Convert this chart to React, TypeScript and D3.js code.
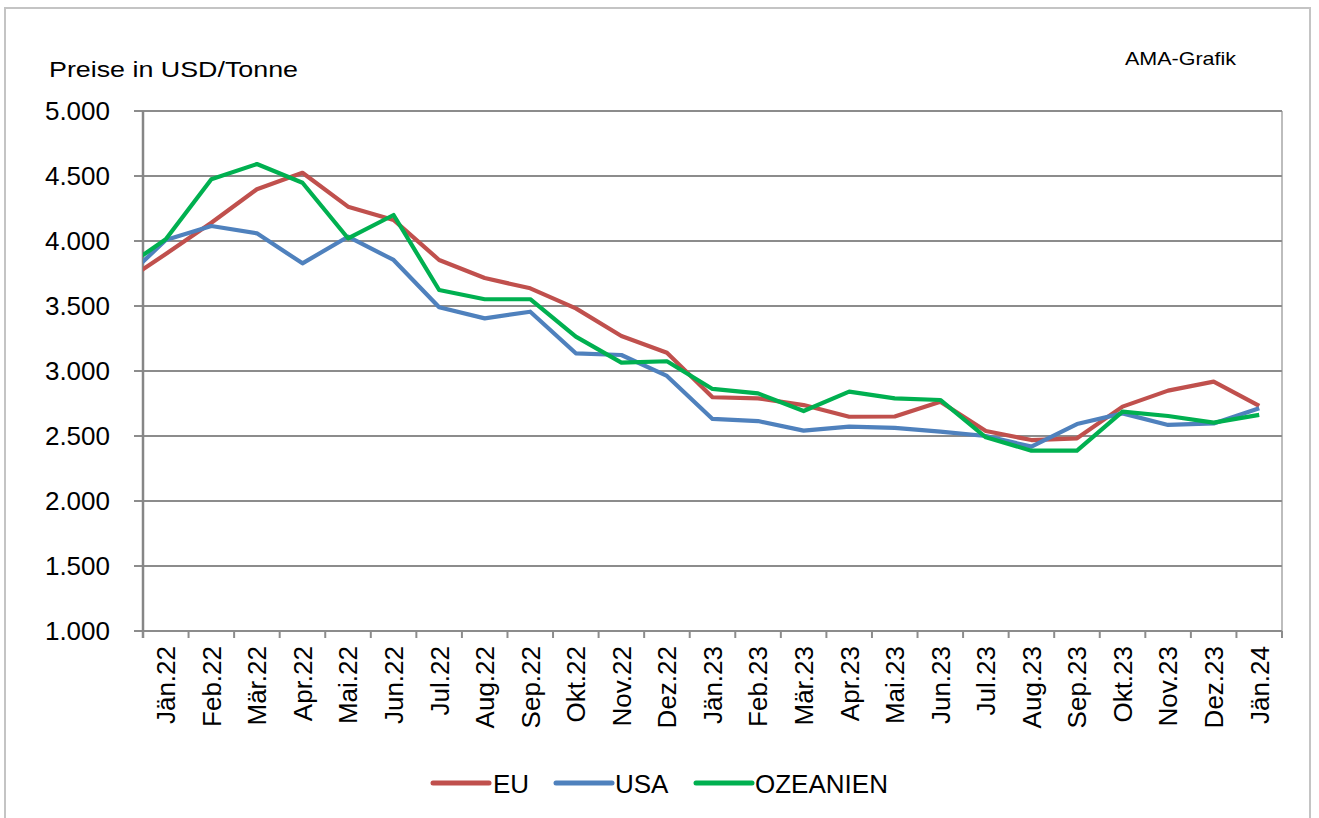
import React from 'react'
import * as d3 from 'd3'

const categories = [
  'Jän.22', 'Feb.22', 'Mär.22', 'Apr.22', 'Mai.22', 'Jun.22', 'Jul.22', 'Aug.22', 'Sep.22',
  'Okt.22', 'Nov.22', 'Dez.22', 'Jän.23', 'Feb.23', 'Mär.23', 'Apr.23', 'Mai.23', 'Jun.23',
  'Jul.23', 'Aug.23', 'Sep.23', 'Okt.23', 'Nov.23', 'Dez.23', 'Jän.24'
]

// Wert vom Vormonat (Dez.21), liegt links ausserhalb der Achse und wird abgeschnitten
const priorEU = 3664
const priorUSA = 3674
const priorOZ = 3771

const euValues = [3900, 4140, 4398, 4525, 4264, 4162, 3854, 3715, 3636, 3482, 3269, 3141, 2798, 2790, 2738, 2648, 2650, 2764, 2538, 2469, 2482, 2726, 2849, 2918, 2731]
const usaValues = [4008, 4115, 4059, 3828, 4033, 3854, 3490, 3405, 3456, 3136, 3123, 2962, 2631, 2615, 2541, 2572, 2563, 2533, 2500, 2418, 2592, 2674, 2585, 2597, 2713]
const ozValues = [4013, 4475, 4592, 4448, 4021, 4200, 3623, 3552, 3552, 3264, 3064, 3075, 2862, 2828, 2692, 2841, 2790, 2777, 2490, 2387, 2387, 2687, 2654, 2603, 2662]

const yTicks = [1000, 1500, 2000, 2500, 3000, 3500, 4000, 4500, 5000]

const series = [
  { name: 'EU', color: '#C0504D', prior: priorEU, values: euValues },
  { name: 'USA', color: '#4F81BD', prior: priorUSA, values: usaValues },
  { name: 'OZEANIEN', color: '#00B050', prior: priorOZ, values: ozValues }
]

const W = 1319
const H = 818
const left = 143
const right = 1282
const top = 111
const bottom = 631

const font = '"Liberation Sans", Arial, sans-serif'

const App: React.FC = () => {
  const x = d3.scaleLinear().domain([-0.5, categories.length - 0.5]).range([left, right])
  const y = d3.scaleLinear().domain([1000, 5000]).range([bottom, top])
  const fmt = (v: number) => d3.format(',.0f')(v).replace(/,/g, '.')

  const line = d3.line<[number, number]>()
    .x(d => x(d[0]))
    .y(d => y(d[1]))

  const boundaries = d3.range(categories.length + 1).map(i => i - 0.5)

  const legendItems = [
    { lx: 433, tx: 493 },
    { lx: 556, tx: 615 },
    { lx: 696, tx: 755 }
  ]

  return (
    <svg width={W} height={H} style={{ position: 'absolute', left: 0, top: 0, background: '#fff' }}>
      <defs>
        <clipPath id="plot">
          <rect x={left} y={top - 10} width={right - left} height={bottom - top + 10} />
        </clipPath>
      </defs>
      {/* Rahmen */}
      <rect x={5} y={8} width={1305} height={830} fill="none" stroke="#c4c4c4" strokeWidth={2} />

      <text x={49} y={77} fontFamily={font} fontSize={22} textLength={249} lengthAdjust="spacingAndGlyphs" fill="#000">
        Preise in USD/Tonne
      </text>
      <text x={1125} y={65} fontFamily={font} fontSize={19} textLength={111} lengthAdjust="spacingAndGlyphs" fill="#000">
        AMA-Grafik
      </text>

      {/* rechte Rahmenlinie Plotbereich */}
      <line x1={right} x2={right} y1={top} y2={bottom} stroke="#bdbdbd" strokeWidth={2} />

      {/* Gitterlinien + y-Achse */}
      {yTicks.map(t => (
        <g key={t}>
          <line x1={134} x2={right} y1={y(t)} y2={y(t)} stroke="#8c8c8c" strokeWidth={2} />
          <text x={110} y={y(t)} dy="0.36em" textAnchor="end" fontFamily={font} fontSize={26} fill="#000">
            {fmt(t)}
          </text>
        </g>
      ))}
      <line x1={left} x2={left} y1={top} y2={bottom + 7} stroke="#868686" strokeWidth={2.5} />

      {/* x-Achse */}
      {boundaries.map(b => (
        <line key={b} x1={x(b)} x2={x(b)} y1={bottom} y2={bottom + 7} stroke="#8c8c8c" strokeWidth={2} />
      ))}
      {categories.map((c, i) => (
        <text
          key={c}
          transform={`translate(${x(i)},646) rotate(-90)`}
          dy="0.36em"
          textAnchor="end"
          fontFamily={font}
          fontSize={26}
          fill="#000"
        >
          {c}
        </text>
      ))}

      {/* Linien */}
      <g clipPath="url(#plot)">
        {series.map(s => {
          const pts: [number, number][] = [[-1, s.prior], ...s.values.map((v, i) => [i, v] as [number, number])]
          return (
            <path
              key={s.name}
              d={line(pts) || ''}
              fill="none"
              stroke={s.color}
              strokeWidth={4.2}
              strokeLinejoin="round"
            />
          )
        })}
      </g>

      {/* Legende */}
      {series.map((s, i) => (
        <g key={s.name}>
          <line
            x1={legendItems[i].lx}
            x2={legendItems[i].lx + 56}
            y1={783}
            y2={783}
            stroke={s.color}
            strokeWidth={5}
            strokeLinecap="round"
          />
          <text x={legendItems[i].tx} y={793} fontFamily={font} fontSize={26} fill="#000">
            {s.name}
          </text>
        </g>
      ))}
    </svg>
  )
}

export default App
